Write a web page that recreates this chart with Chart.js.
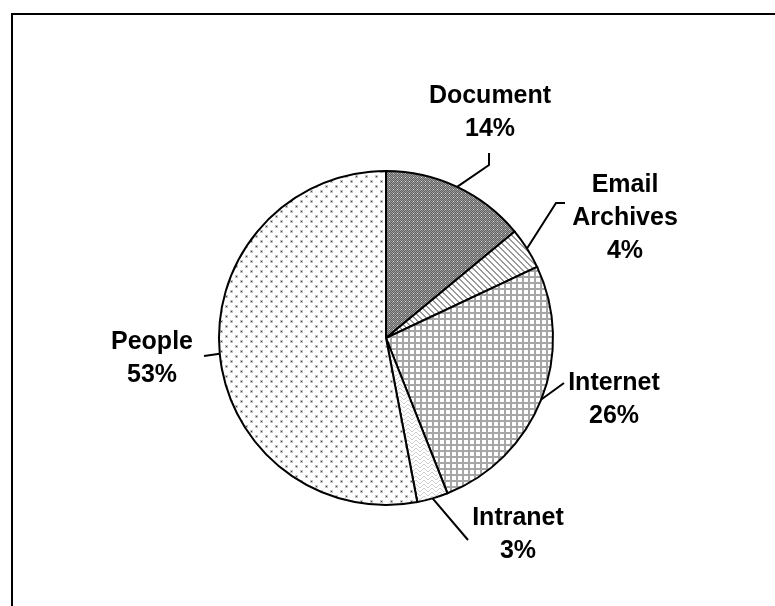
<!DOCTYPE html>
<html>
<head>
<meta charset="utf-8">
<script src="https://cdn.jsdelivr.net/npm/chart.js@4/dist/chart.umd.min.js"></script>
<style>
  html, body { margin: 0; padding: 0; background: #fff; }
  #wrap { width: 775px; height: 606px; position: relative; }
</style>
</head>
<body>
<div id="wrap"><canvas id="chart-sources" width="775" height="606"></canvas></div>
<script>
const categories = ['Document', 'Email Archives', 'Internet', 'Intranet', 'People'];
const shares = [14, 4, 26, 3, 53];
// label text, line by line
const labelLines = [
	['Document', '14%'],
	['Email', 'Archives', '4%'],
	['Internet', '26%'],
	['Intranet', '3%'],
	['People', '53%']
];

// small tiles used as fill patterns
function makeTile(w, h, draw) {
	const c = document.createElement('canvas');
	c.width = w; c.height = h;
	const g = c.getContext('2d');
	g.fillStyle = '#fff';
	g.fillRect(0, 0, w, h);
	draw(g);
	return document.getElementById('chart-sources').getContext('2d').createPattern(c, 'repeat');
}

const patDocument = makeTile(4, 4, g => {
	for (let y = 0; y < 4; y++) for (let x = 0; x < 4; x++) {
		g.fillStyle = (x + y) % 2 ? '#626262' : '#9c9c9c';
		g.fillRect(x, y, 1, 1);
	}
	g.fillStyle = '#dcdcdc';
	g.fillRect(1, 1, 1, 1);
});
const patEmail = makeTile(6, 6, g => {
	g.fillStyle = '#9a9a9a';
	for (let i = 0; i < 6; i++) {
		g.fillRect(i, i, 1, 1);
		g.fillRect((i + 1) % 6, i, 1, 1);
	}
});
const patInternet = makeTile(6, 6, g => {
	g.fillStyle = '#a6a6a6';
	g.fillRect(0, 0, 6, 2);
	g.fillRect(0, 0, 2, 6);
});
const patIntranet = makeTile(8, 8, g => {
	g.fillStyle = '#cfcfcf';
	for (let i = 0; i < 4; i++) {
		g.fillRect(i, i, 1, 1);
		g.fillRect(7 - i, i, 1, 1);
		g.fillRect(i, i + 4, 1, 1);
		g.fillRect(7 - i, i + 4, 1, 1);
	}
});
const patPeople = makeTile(10, 10, g => {
	g.fillStyle = '#c4c4c4';
	g.fillRect(0, 0, 3, 3);
	g.fillRect(5, 5, 3, 3);
	g.fillStyle = '#404040';
	g.fillRect(1, 1, 1, 1);
	g.fillRect(6, 6, 1, 1);
});

// outside labels with leader lines, plus the outer frame
const calloutPlugin = {
	id: 'callouts',
	afterDraw(chart, args, opts) {
		const ctx = chart.ctx;
		ctx.save();
		ctx.strokeStyle = '#000';
		ctx.lineWidth = 2;
		ctx.strokeRect(12, 14, 800, 700);

		const arcs = chart.getDatasetMeta(0).data;
		ctx.font = 'bold 25px "Liberation Sans", Arial, sans-serif';
		ctx.fillStyle = '#000';
		ctx.textAlign = 'center';
		ctx.textBaseline = 'middle';
		ctx.lineWidth = 2;
		arcs.forEach((arc, i) => {
			const p = arc.getProps(['x', 'y', 'startAngle', 'endAngle', 'outerRadius'], true);
			const mid = (p.startAngle + p.endAngle) / 2;
			const ex = p.x + Math.cos(mid) * p.outerRadius;
			const ey = p.y + Math.sin(mid) * p.outerRadius;
			const spec = opts.items[i];
			ctx.beginPath();
			ctx.moveTo(ex, ey);
			spec.leader.forEach(pt => ctx.lineTo(p.x + pt[0], p.y + pt[1]));
			ctx.stroke();
			labelLines[i].forEach((line, k) => {
				ctx.fillText(line, p.x + spec.text[0], p.y + spec.text[1] + k * opts.lineHeight);
			});
		});
		ctx.restore();
	}
};

new Chart(document.getElementById('chart-sources').getContext('2d'), {
	type: 'pie',
	data: {
		labels: categories,
		datasets: [{
			data: shares,
			backgroundColor: [patDocument, patEmail, patInternet, patIntranet, patPeople],
			borderColor: '#000',
			borderWidth: 2,
			borderJoinStyle: 'miter'
		}]
	},
	options: {
		responsive: false,
		animation: false,
		events: [],
		layout: { padding: { top: 170, bottom: 100, left: 218, right: 221 } },
		plugins: {
			legend: { display: false },
			tooltip: { enabled: false },
			callouts: {
				lineHeight: 33,
				items: [
					{ text: [104, -242], leader: [[103, -173], [103, -185]] },
					{ text: [239, -153], leader: [[170, -135], [179, -135]] },
					{ text: [228, 45], leader: [[178, 45]] },
					{ text: [132, 180], leader: [[82, 202]] },
					{ text: [-234, 4], leader: [[-182, 18]] }
				]
			}
		}
	},
	plugins: [calloutPlugin]
});
</script>
</body>
</html>
